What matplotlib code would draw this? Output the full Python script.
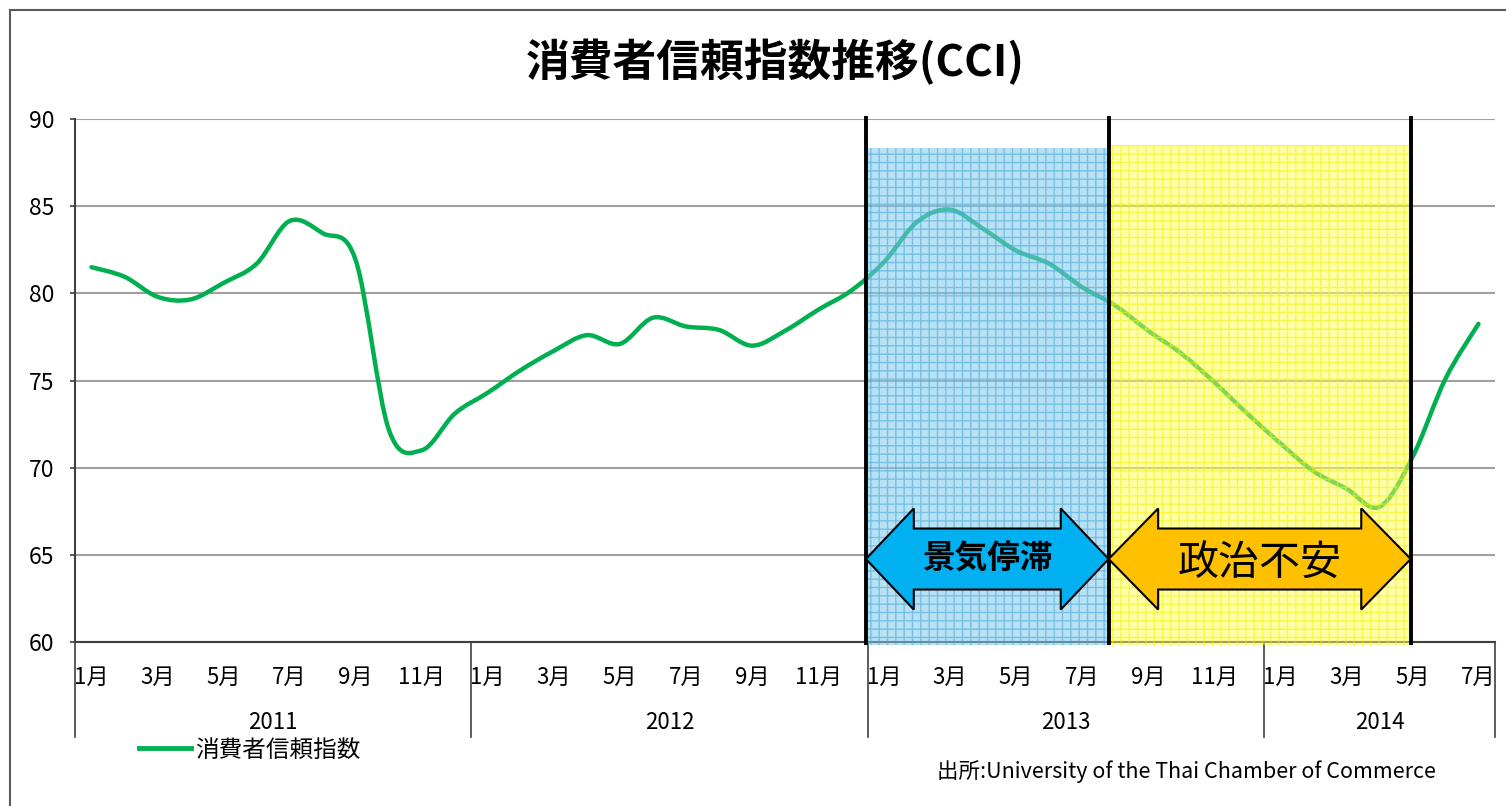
import numpy as np
import matplotlib
matplotlib.use("Agg")
import matplotlib.pyplot as plt
from matplotlib.path import Path
from matplotlib.patches import PathPatch, Rectangle, Polygon
from matplotlib.lines import Line2D

plt.rcParams['font.family'] = ['Noto Sans CJK JP', 'DejaVu Sans']
plt.rcParams['hatch.linewidth'] = 1.0

# ---------------- data ----------------
years = ['2011', '2012', '2013', '2014']
months_per_year = [12, 12, 12, 7]
cci = [81.5, 80.95, 79.8, 79.65, 80.6, 81.7, 84.15, 83.45, 81.9, 72.2, 71.0, 73.1,
       74.3, 75.6, 76.7, 77.6, 77.1, 78.6, 78.1, 77.9, 77.0, 77.85, 79.05, 80.15,
       81.8, 84.1, 84.8, 83.7, 82.45, 81.7, 80.35, 79.3, 77.85, 76.55, 74.9, 73.1,
       71.4, 69.8, 68.8, 67.75, 70.6, 75.1, 78.25]
series_name = '消費者信頼指数'

# period markers (category positions) and names
period_edges = [23.45, 30.8, 39.95]
period_names = ['景気停滞', '政治不安']

GREEN = '#00B050'

n = len(cci)
x = np.arange(n)

month_pos = []
month_lbl = []
i = 0
for cnt in months_per_year:
    for m in range(cnt):
        if m % 2 == 0:
            month_pos.append(i)
            month_lbl.append(f'{m + 1}月')
        i += 1


def smooth_path(xs, ys):
    # excel-like smoothed line (catmull-rom -> cubic bezier)
    pts = np.column_stack([xs, ys]).astype(float)
    verts = [pts[0]]
    codes = [Path.MOVETO]
    for k in range(len(pts) - 1):
        p0 = pts[max(k - 1, 0)]
        p1 = pts[k]
        p2 = pts[k + 1]
        p3 = pts[min(k + 2, len(pts) - 1)]
        verts += [p1 + (p2 - p0) / 6, p2 - (p3 - p1) / 6, p2]
        codes += [Path.CURVE4] * 3
    return Path(verts, codes)


def double_arrow(x0, x1, yc, head_len, head_h, shaft_h):
    return [(x0, yc), (x0 + head_len, yc + head_h), (x0 + head_len, yc + shaft_h),
            (x1 - head_len, yc + shaft_h), (x1 - head_len, yc + head_h), (x1, yc),
            (x1 - head_len, yc - head_h), (x1 - head_len, yc - shaft_h),
            (x0 + head_len, yc - shaft_h), (x0 + head_len, yc - head_h)]


# ---------------- figure ----------------
W, H = 1506, 806
fig = plt.figure(figsize=(W / 100, H / 100), dpi=100)
ax = fig.add_axes([75 / W, 164 / H, 1420 / W, 523 / H])
ax.set_xlim(-0.5, n - 0.5)
ax.set_ylim(60, 90)
ax.set_yticks(range(60, 91, 5))
ax.grid(axis='y', color='#A0A0A0', lw=1.5, zorder=0)
ax.set_axisbelow(True)

for s in ['top', 'right']:
    ax.spines[s].set_visible(False)
for s in ['left', 'bottom']:
    ax.spines[s].set_color('#404040')
    ax.spines[s].set_linewidth(1.5)

ax.tick_params(axis='y', length=3.6, width=1.2, color='#404040', pad=11, labelsize=16.5)
ax.set_xticks(month_pos)
ax.set_xticklabels(month_lbl)
ax.tick_params(axis='x', length=0, pad=17, labelsize=16)

# year labels + separators
xt = ax.get_xaxis_transform()
start = 0
bounds = [-0.5]
for yr, cnt in zip(years, months_per_year):
    ax.text(start - 0.5 + cnt / 2, -0.153, yr, transform=xt, ha='center', va='center', fontsize=16)
    start += cnt
    bounds.append(start - 0.5)
for b in bounds:
    ax.plot([b, b], [0, -0.182], transform=xt, clip_on=False, color='#404040', lw=1.2)

# CCI line
ax.add_patch(PathPatch(smooth_path(x, cci), fill=False, edgecolor=GREEN, lw=3.2,
                       capstyle='round', zorder=3))

# shaded periods
ax.add_patch(Rectangle((period_edges[0], 59.83), period_edges[1] - period_edges[0], 88.35 - 59.83,
                       facecolor=(0.50, 0.79, 0.92, 0.55), edgecolor=(0.25, 0.65, 0.85, 0.55),
                       hatch='++', lw=0, clip_on=False, zorder=4))
ax.add_patch(Rectangle((period_edges[1], 59.83), period_edges[2] - period_edges[1] - 0.06, 88.5 - 59.83,
                       facecolor=(1.0, 1.0, 0.35, 0.5), edgecolor=(0.95, 0.95, 0.0, 0.6),
                       hatch='++', lw=0, clip_on=False, zorder=4))
ax.vlines(period_edges, 59.83, 90.17, color='black', lw=2.8, clip_on=False, zorder=6)

# arrows
yc = 64.76
ax.add_patch(Polygon(double_arrow(period_edges[0], period_edges[1], yc, 1.45, 2.9, 1.75),
                     closed=True, facecolor='#00B0F0', edgecolor='black', lw=1.5, zorder=7))
ax.add_patch(Polygon(double_arrow(period_edges[1], period_edges[2], yc, 1.5, 2.9, 1.75),
                     closed=True, facecolor='#FFC000', edgecolor='black', lw=1.5, zorder=7))
ax.text((period_edges[0] + period_edges[1]) / 2, yc, period_names[0], ha='center', va='center',
        fontsize=23.5, fontweight='bold', zorder=8)
ax.text((period_edges[1] + period_edges[2]) / 2, yc - 0.3, period_names[1], ha='center', va='center',
        fontsize=29.5, zorder=8)

# title
fig.text(775 / W, 1 - 62 / H, '消費者信頼指数推移(CCI)', ha='center', va='center',
         fontsize=31.5, fontweight='bold')

# legend
fig.legend(handles=[Line2D([], [], color=GREEN, lw=3.5)], labels=[series_name],
           loc='center left', bbox_to_anchor=(118 / W, 1 - 750 / H), frameon=False,
           fontsize=17, handlelength=2.2, handletextpad=0.15)

# source
fig.text(937 / W, 1 - 772 / H, '出所:University of the Thai Chamber of Commerce',
         ha='left', va='center', fontsize=15.5)

# chart frame
fig.add_artist(Line2D([10 / W, 10 / W], [0, 1 - 10 / H], transform=fig.transFigure, color='#595959', lw=1.5))
fig.add_artist(Line2D([10 / W, 1], [1 - 10 / H, 1 - 10 / H], transform=fig.transFigure, color='#595959', lw=1.5))

fig.savefig('out.png', dpi=100)
